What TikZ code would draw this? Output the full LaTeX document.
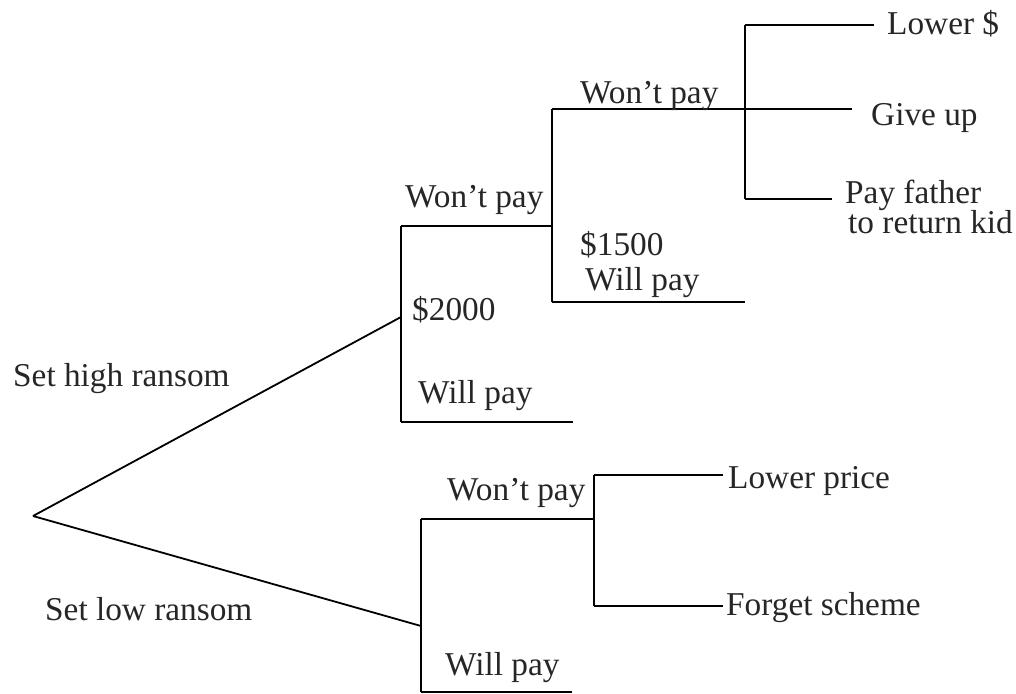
\documentclass[tikz,border=0pt]{standalone}
\usepackage{fontspec}
\setmainfont{Liberation Serif}
\begin{document}
\begin{tikzpicture}[x=1pt,y=-1pt,
  branch/.style={line width=1.8pt, black},
  lbl/.style={anchor=base west, inner sep=0pt, font=\fontsize{33.3}{36}\selectfont, text=black!85}]
\useasboundingbox (0,0) rectangle (1016,693);
% coordinates
\coordinate (root) at (33,516);
\coordinate (A) at (401,317);
\coordinate (At) at (401,226);
\coordinate (Ab) at (401,422);
\coordinate (AbE) at (573,422);
\coordinate (B) at (552,226);
\coordinate (Bt) at (552,109);
\coordinate (Bb) at (552,302);
\coordinate (BbE) at (745,302);
\coordinate (C) at (745,109);
\coordinate (Ct) at (745,25);
\coordinate (Cb) at (745,199);
\coordinate (CtE) at (874,25);
\coordinate (CmE) at (852,109);
\coordinate (CbE) at (832,199);
\coordinate (D) at (421,626);
\coordinate (Dt) at (421,519);
\coordinate (Db) at (421,692);
\coordinate (DbE) at (572,692);
\coordinate (E) at (594,519);
\coordinate (Et) at (594,475);
\coordinate (Eb) at (594,606);
\coordinate (EtE) at (723,475);
\coordinate (EbE) at (723,606);
% edges
\draw[branch] (root) -- (A);
\draw[branch] (root) -- (D);
\draw[branch] (At) -- (Ab);
\draw[branch] (At) -- (B);
\draw[branch] (Ab) -- (AbE);
\draw[branch] (Bt) -- (Bb);
\draw[branch] (Bt) -- (C);
\draw[branch] (Bb) -- (BbE);
\draw[branch] (Ct) -- (Cb);
\draw[branch] (Ct) -- (CtE);
\draw[branch] (C) -- (CmE);
\draw[branch] (Cb) -- (CbE);
\draw[branch] (Dt) -- (Db);
\draw[branch] (Dt) -- (E);
\draw[branch] (Db) -- (DbE);
\draw[branch] (Et) -- (Eb);
\draw[branch] (Et) -- (EtE);
\draw[branch] (Eb) -- (EbE);
% labels
\node[lbl] (l1) at (13,386) {Set high ransom};
\node[lbl] (l2) at (45,620) {Set low ransom};
\node[lbl] (l3) at (405,207) {Won't pay};
\node[lbl] (l4) at (412,320) {\$2000};
\node[lbl] (l5) at (418,403) {Will pay};
\node[lbl] (l6) at (580,103) {Won't pay};
\node[lbl] (l7) at (580,255) {\$1500};
\node[lbl] (l8) at (585,290) {Will pay};
\node[lbl] (l9) at (887,35) {Lower \$};
\node[lbl] (l10) at (871,125) {Give up};
\node[lbl] (l11) at (845,203) {Pay father};
\node[lbl] (l12) at (848,233) {to return kid};
\node[lbl] (l13) at (447,500) {Won't pay};
\node[lbl] (l14) at (445,675) {Will pay};
\node[lbl] (l15) at (728,488) {Lower price};
\node[lbl] (l16) at (726,615) {Forget scheme};
\end{tikzpicture}
\end{document}
